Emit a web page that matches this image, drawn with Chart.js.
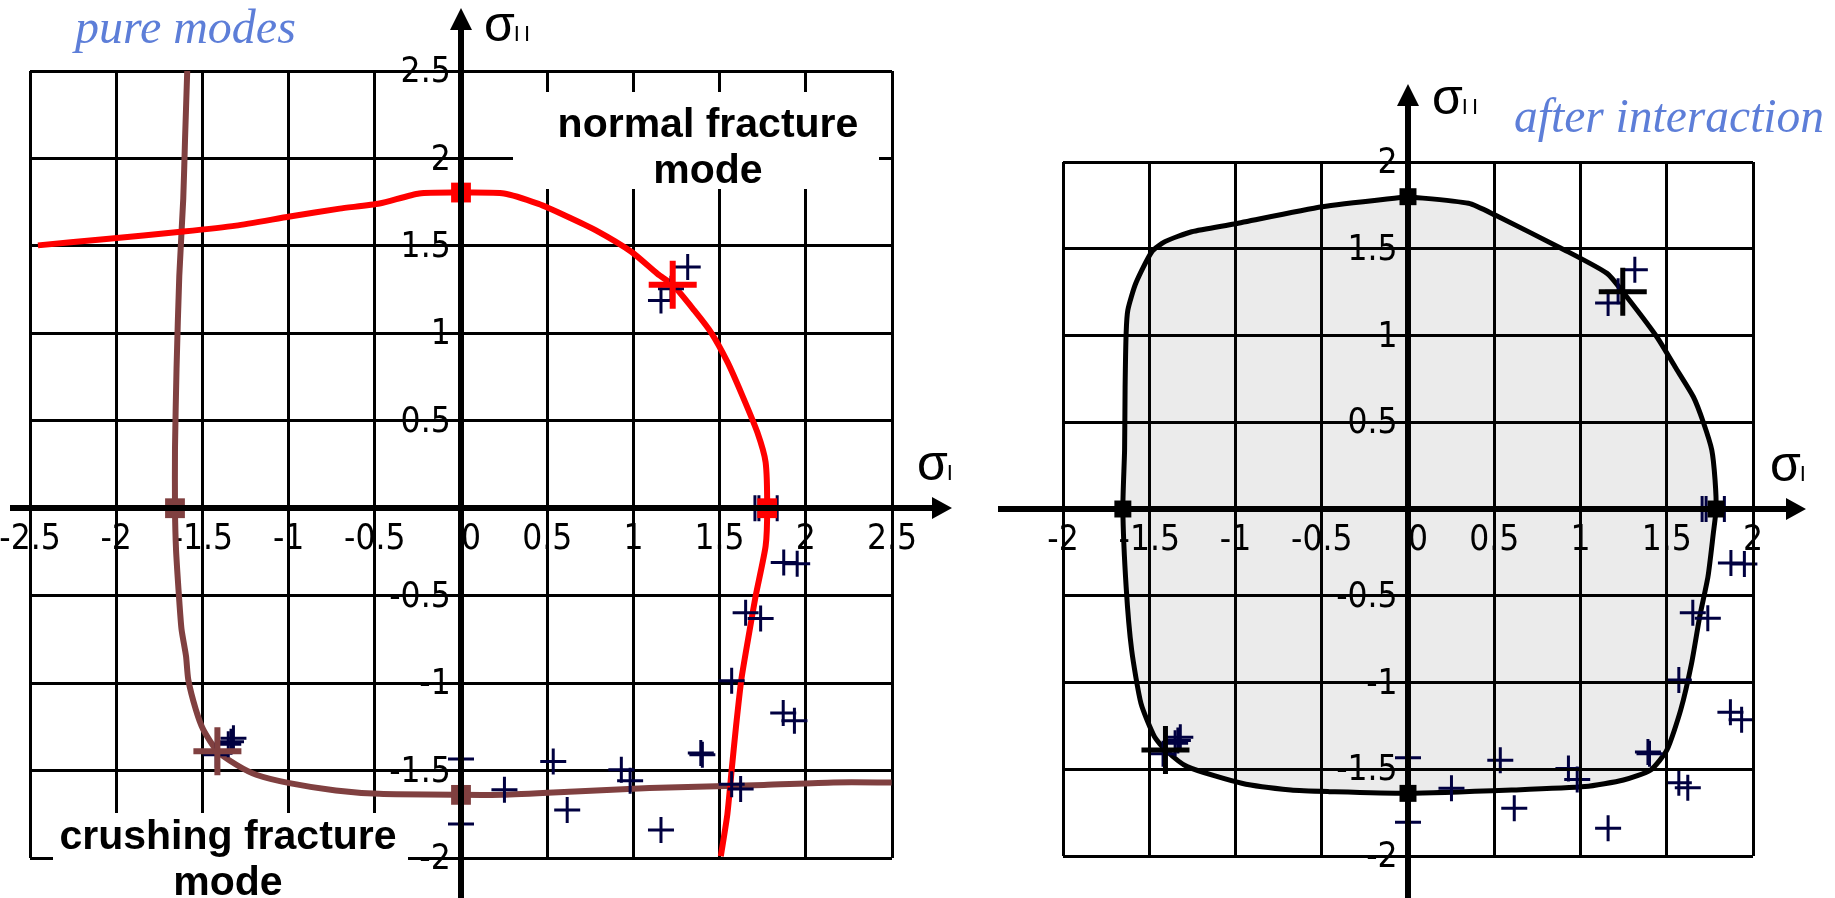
<!DOCTYPE html>
<html>
<head>
<meta charset="utf-8">
<script src="https://cdn.jsdelivr.net/npm/chart.js@4.4.1/dist/chart.umd.min.js"></script>
<style>
  html, body { margin: 0; padding: 0; background: #fff; }
  #wrap { position: relative; width: 1835px; height: 898px; overflow: hidden; }
  #pure { position: absolute; left: 0; top: 0; }
  #after { position: absolute; left: 960px; top: 0; }
</style>
</head>
<body>
<div id="wrap">
  <canvas id="pure" width="960" height="898" style="width:960px;height:898px"></canvas>
  <canvas id="after" width="875" height="898" style="width:875px;height:898px"></canvas>
</div>
<script>
// axis ranges and tick step (sigma_I, sigma_II)
const tickStep = 0.5;
const pureRangeX = [-2.5, 2.5];
const pureRangeY = [-2, 2.5];
const afterRange = [-2, 2];

// normal fracture mode surface [sI, sII]
const normalMode = [
  [-2.454, 1.503], [-2.073, 1.538], [-1.611, 1.582], [-1.305, 1.616], [-0.993, 1.668],
  [-0.704, 1.713], [-0.473, 1.742], [-0.242, 1.80], [0, 1.805], [0.25, 1.80],
  [0.45, 1.74], [0.60, 1.675], [0.78, 1.59], [0.99, 1.465], [1.14, 1.34],
  [1.228, 1.278], [1.353, 1.131], [1.449, 1.007], [1.546, 0.835], [1.632, 0.644],
  [1.719, 0.434], [1.767, 0.262], [1.776, 0], [1.767, -0.216], [1.709, -0.502],
  [1.665, -0.75], [1.626, -0.98], [1.595, -1.25], [1.570, -1.496], [1.545, -1.75],
  [1.507, -1.99]
];

// crushing fracture mode surface
const crushingMode = [
  [-1.588, 2.5], [-1.601, 2.1], [-1.611, 1.77], [-1.634, 1.33], [-1.65, 0.8],
  [-1.659, 0.34], [-1.659, 0], [-1.653, -0.235], [-1.636, -0.502], [-1.621, -0.693],
  [-1.595, -0.846], [-1.582, -0.98], [-1.538, -1.152], [-1.495, -1.266], [-1.413, -1.39],
  [-1.303, -1.467], [-1.188, -1.524], [-0.995, -1.572], [-0.726, -1.614], [-0.475, -1.633],
  [0, -1.639], [0.237, -1.639], [0.66, -1.62], [1.093, -1.60], [1.757, -1.582],
  [2.16, -1.568], [2.498, -1.568]
];

// combined surface after mode interaction (closed)
const interaction = [
  [0, 1.80], [0.351, 1.762], [0.505, 1.694], [0.907, 1.493], [1.154, 1.358],
  [1.245, 1.252], [1.442, 0.993], [1.548, 0.82], [1.654, 0.647], [1.712, 0.50],
  [1.761, 0.34], [1.78, 0.167], [1.786, 0], [1.770, -0.14], [1.739, -0.39],
  [1.691, -0.621], [1.644, -0.889], [1.581, -1.158], [1.501, -1.389], [1.407, -1.504],
  [1.249, -1.562], [1.027, -1.60], [0.601, -1.62], [0, -1.639], [-0.458, -1.629],
  [-0.679, -1.62], [-0.964, -1.581], [-1.28, -1.485], [-1.406, -1.389], [-1.47, -1.312],
  [-1.548, -1.12], [-1.602, -0.813], [-1.634, -0.448], [-1.653, 0], [-1.643, 0.34],
  [-1.64, 0.7], [-1.634, 1.013], [-1.624, 1.147], [-1.578, 1.301], [-1.485, 1.483],
  [-1.409, 1.541], [-1.254, 1.598], [-1.007, 1.643], [-0.497, 1.742], [0, 1.80]
];

// test results
const experiments = [
  [1.315, 1.379], [1.16, 1.188], [1.218, 1.255],
  [1.705, 0], [1.728, 0], [1.834, 0],
  [1.872, -0.311], [1.95, -0.317],
  [1.651, -0.598], [1.738, -0.630],
  [1.570, -0.986],
  [1.869, -1.171], [1.934, -1.215],
  [1.391, -1.40], [1.40, -1.41],
  [1.570, -1.578], [1.622, -1.606],
  [0.535, -1.448], [0.93, -1.496], [0.981, -1.559], [0.252, -1.61], [0.616, -1.725], [1.16, -1.84],
  [0, -1.434], [0, -1.805],
  [-1.334, -1.335], [-1.32, -1.315], [-1.35, -1.35], [-1.42, -1.41]
];

// uniaxial / biaxial strength points
const normalStrength = [[0, 1.805], [1.776, 0]];
const crushingStrength = [[-1.659, 0], [0, -1.639]];
const normalShear = [[1.228, 1.278]];
const crushingShear = [[-1.413, -1.39]];
const afterStrength = [[0, 1.80], [1.786, 0], [0, -1.639], [-1.653, 0]];
const afterShear = [[1.245, 1.252], [-1.406, -1.389]];

const pts = a => a.map(([x, y]) => ({ x, y }));

const tickFont = { family: "'Liberation Sans Narrow', 'DejaVu Sans Condensed', sans-serif", size: 35 };
const navy = '#000040';

// keep the grid exactly where the layout padding puts it
function noOverflow(s, horizontal) {
  if (horizontal) s.height = 0; else s.width = 0;
  s.paddingLeft = s.paddingRight = s.paddingTop = s.paddingBottom = 0;
}

function scales(rx, ry, gridZ) {
  return {
    x: {
      type: 'linear', min: rx[0], max: rx[1],
      position: { y: 0 },
      afterFit: s => noOverflow(s, true),
      border: { display: false },
      grid: { color: '#000', lineWidth: 3, drawTicks: false, z: gridZ },
      ticks: {
        stepSize: tickStep, autoSkip: false, maxRotation: 0, color: '#000',
        font: tickFont, padding: 11, z: gridZ > 0 ? 1 : 0,
        callback: v => v === 0 ? '  0' : String(v)
      }
    },
    y: {
      type: 'linear', min: ry[0], max: ry[1],
      position: { x: -0.06 },
      afterFit: s => noOverflow(s, false),
      border: { display: false },
      grid: { color: '#000', lineWidth: 3, drawTicks: false, z: gridZ },
      ticks: {
        stepSize: tickStep, autoSkip: false, color: '#000',
        font: tickFont, labelOffset: 2, z: gridZ > 0 ? 1 : 0,
        callback: v => v === 0 ? '' : String(v)
      }
    }
  };
}

function sigma(ctx, sub, p) {
  ctx.font = "50px 'Liberation Sans', Arial, sans-serif";
  ctx.textAlign = 'left';
  ctx.fillText('σ', p[0], p[1]);
  const w = ctx.measureText('σ').width;
  ctx.font = "22px 'Liberation Sans', Arial, sans-serif";
  ctx.letterSpacing = '4px';
  ctx.fillText(sub, p[0] + w - 1, p[1]);
  ctx.letterSpacing = '0px';
}

// axes with arrows, axis names, captions and boxed notes
function decorations(o) {
  return {
    id: 'decorations',
    beforeDatasetsDraw(chart) {
      const ctx = chart.ctx;
      (o.notes || []).forEach(n => {
        ctx.save();
        ctx.fillStyle = '#fff';
        ctx.fillRect(n.box[0], n.box[1], n.box[2], n.box[3]);
        ctx.fillStyle = '#000';
        ctx.font = "bold 41px 'Liberation Sans', Arial, sans-serif";
        ctx.textAlign = 'center';
        n.lines.forEach((t, i) => ctx.fillText(t, n.cx, n.base + i * 46));
        ctx.restore();
      });
    },
    afterDraw(chart) {
      const { ctx, scales: { x, y } } = chart;
      const x0 = Math.round(x.getPixelForValue(0));
      const y0 = Math.round(y.getPixelForValue(0));
      ctx.save();
      ctx.strokeStyle = ctx.fillStyle = '#000';
      ctx.lineWidth = 6;
      ctx.beginPath();
      ctx.moveTo(o.xFrom, y0);
      ctx.lineTo(o.xTip - 15, y0);
      ctx.moveTo(x0, chart.height);
      ctx.lineTo(x0, o.yTip + 15);
      ctx.stroke();
      ctx.beginPath();
      ctx.moveTo(o.xTip, y0);
      ctx.lineTo(o.xTip - 20, y0 - 11);
      ctx.lineTo(o.xTip - 20, y0 + 11);
      ctx.closePath();
      ctx.moveTo(x0, o.yTip);
      ctx.lineTo(x0 - 11, o.yTip + 22);
      ctx.lineTo(x0 + 11, o.yTip + 22);
      ctx.closePath();
      ctx.fill();

      sigma(ctx, 'II', o.sigmaII);
      sigma(ctx, 'I', o.sigmaI);

      ctx.font = `italic ${o.title.size}px 'Liberation Serif', 'DejaVu Serif', serif`;
      ctx.fillStyle = '#5d7ed8';
      ctx.textAlign = 'left';
      ctx.fillText(o.title.text, o.title.x, o.title.y);
      ctx.restore();
    }
  };
}

const common = {
  responsive: false,
  animation: false,
  devicePixelRatio: 1,
  plugins: { legend: { display: false }, tooltip: { enabled: false } }
};

const cross = (data, color, r, w) => ({
  data: pts(data), pointStyle: 'cross', pointRadius: r,
  borderColor: color, pointBorderWidth: w, showLine: false, clip: false
});
const square = (data, color, r) => ({
  data: pts(data), pointStyle: 'rect', pointRadius: r,
  backgroundColor: color, borderColor: color, pointBorderWidth: 0, showLine: false, clip: false
});
const curve = (data, color, extra) => Object.assign({
  data: pts(data), showLine: true, borderColor: color, borderWidth: 6,
  pointRadius: 0, tension: 0.2, fill: false, clip: false
}, extra);

new Chart(document.getElementById('pure'), {
  type: 'scatter',
  data: {
    datasets: [
      cross(normalShear, '#ff0000', 24, 6),
      cross(crushingShear, '#804040', 24, 6),
      square(normalStrength, '#ff0000', 14),
      square(crushingStrength, '#804040', 14),
      cross(experiments, navy, 13, 3),
      curve(normalMode, '#ff0000'),
      curve(crushingMode, '#804040')
    ]
  },
  options: Object.assign({}, common, {
    layout: { padding: { left: 26, right: 68, top: 71, bottom: 40 } },
    scales: scales(pureRangeX, pureRangeY, -1)
  }),
  plugins: [decorations({
    xFrom: 10, xTip: 952, yTip: 8,
    sigmaII: [484, 41], sigmaI: [917, 480],
    title: { text: 'pure modes', x: 75, y: 43, size: 48 },
    notes: [
      { box: [513, 92, 366, 97], lines: ['normal fracture', 'mode'], cx: 708, base: 137 },
      { box: [53, 813, 355, 85], lines: ['crushing fracture', 'mode'], cx: 228, base: 849 }
    ]
  })]
});

new Chart(document.getElementById('after'), {
  type: 'scatter',
  data: {
    datasets: [
      cross(afterShear, '#000', 24, 5),
      square(afterStrength, '#000', 12),
      cross(experiments, navy, 13, 3),
      curve(interaction, '#000', { borderWidth: 5, fill: 'shape', backgroundColor: '#ebebeb' })
    ]
  },
  options: Object.assign({}, common, {
    layout: { padding: { left: 103, right: 82, top: 162, bottom: 42 } },
    scales: scales(afterRange, afterRange, 1)
  }),
  plugins: [decorations({
    xFrom: 38, xTip: 846, yTip: 84,
    sigmaII: [472, 114], sigmaI: [810, 481],
    title: { text: 'after interaction', x: 554, y: 132, size: 47.5 }
  })]
});
</script>
</body>
</html>
